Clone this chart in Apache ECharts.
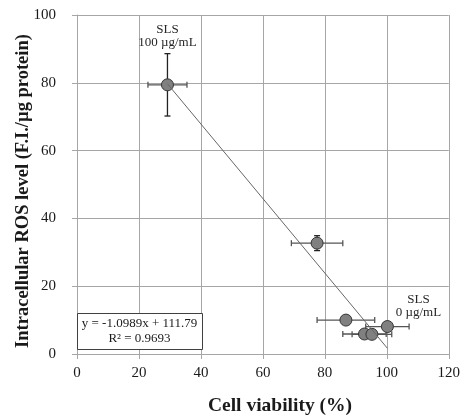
<!DOCTYPE html>
<html><head><meta charset="utf-8">
<script src="https://cdn.jsdelivr.net/npm/echarts@6/dist/echarts.min.js"></script>
<style>html,body{margin:0;padding:0;background:#fff}#c{width:463px;height:418px}</style>
</head><body><div id="c"></div>
<script>
const xVals = [29.2, 77.5, 86.8, 100.2, 92.8, 95.2];
const yVals = [79.4, 32.7, 10.0, 8.1, 5.9, 5.8];
const xErr = [6.3, 8.3, 9.3, 7.0, 7.0, 6.4];
const yErr = [9.2, 2.2, 0, 0, 0, 0];
const pointLabels = ['SLS\n100 µg/mL', '', '', 'SLS\n0 µg/mL', '', ''];
const trend = { slope: -1.0989, intercept: 111.79 };
const eqText = ['y = -1.0989x + 111.79', 'R² = 0.9693'];
const xTicks = [0, 20, 40, 60, 80, 100, 120];
const yTicks = [0, 20, 40, 60, 80, 100];
const xTitle = 'Cell viability (%)';
const yTitle = 'Intracellular ROS level (F.I./µg protein)';

const FONT = 'Liberation Serif';
const chart = echarts.init(document.getElementById('c'), null, {renderer: 'canvas'});

const errData = xVals.map((x, i) => [x, yVals[i], xErr[i], yErr[i]]);
const scatterData = xVals.map((x, i) => {
  const d = { value: [x, yVals[i]] };
  if (i === 0) d.label = { show: true, formatter: pointLabels[i], position: 'top', distance: 29, offset: [0, 0] };
  if (i === 3) d.label = { show: true, formatter: pointLabels[i], position: 'top', distance: 1, offset: [31, 0] };
  return d;
});
const xmin = Math.min(...xVals), xmax = Math.max(...xVals);
const trendData = [[xmin, trend.slope * xmin + trend.intercept], [xmax, trend.slope * xmax + trend.intercept]];

const gridColor = '#a6a6a6';
const txt = '#1a1a1a';
chart.setOption({
  animation: false,
  grid: { left: 77, top: 15, width: 375, height: 339 },
  xAxis: {
    type: 'value', min: xTicks[0], max: xTicks[xTicks.length - 1], interval: 20,
    axisLine: { lineStyle: { color: gridColor } },
    axisTick: { show: true, length: 5, lineStyle: { color: gridColor } },
    splitLine: { show: true, lineStyle: { color: gridColor } },
    axisLabel: { fontFamily: FONT, fontSize: 15, color: txt, margin: 12 }
  },
  yAxis: {
    type: 'value', min: yTicks[0], max: yTicks[yTicks.length - 1], interval: 20,
    axisLine: { show: true, lineStyle: { color: gridColor } },
    axisTick: { show: true, length: 5, lineStyle: { color: gridColor } },
    splitLine: { show: true, lineStyle: { color: gridColor } },
    axisLabel: { fontFamily: FONT, fontSize: 15, color: txt, margin: 21 }
  },
  series: [
    {
      type: 'custom', z: 1, data: errData,
      renderItem: function (params, api) {
        const x = api.value(0), y = api.value(1), ex = api.value(2), ey = api.value(3);
        const c = api.coord([x, y]);
        const l = api.coord([x - ex, y]), r = api.coord([x + ex, y]);
        const t = api.coord([x, y + ey]), b = api.coord([x, y - ey]);
        const cap = 3;
        const xs = { stroke: '#555', lineWidth: 1.3 };
        const ys = { stroke: '#222', lineWidth: 1.3 };
        const ch = [
          { type: 'line', shape: { x1: l[0], y1: c[1], x2: r[0], y2: c[1] }, style: xs },
          { type: 'line', shape: { x1: l[0], y1: c[1] - cap, x2: l[0], y2: c[1] + cap }, style: xs },
          { type: 'line', shape: { x1: r[0], y1: c[1] - cap, x2: r[0], y2: c[1] + cap }, style: xs }
        ];
        if (ey > 0) {
          ch.push({ type: 'line', shape: { x1: c[0], y1: t[1], x2: c[0], y2: b[1] }, style: ys });
          ch.push({ type: 'line', shape: { x1: c[0] - cap, y1: t[1], x2: c[0] + cap, y2: t[1] }, style: ys });
          ch.push({ type: 'line', shape: { x1: c[0] - cap, y1: b[1], x2: c[0] + cap, y2: b[1] }, style: ys });
        }
        return { type: 'group', children: ch };
      }
    },
    {
      type: 'scatter', z: 2, symbolSize: 12, data: scatterData,
      itemStyle: { color: '#808080', borderColor: '#333', borderWidth: 1, opacity: 1 },
      label: { fontFamily: FONT, fontSize: 13, color: '#262626', lineHeight: 13, align: 'center' }
    },
    {
      type: 'line', z: 3, data: trendData, symbol: 'none',
      lineStyle: { color: '#666', width: 1 }
    }
  ],
  graphic: [
    { type: 'rect', left: 77, top: 313, z: 10,
      shape: { width: 125, height: 36 },
      style: { fill: '#fff', stroke: '#404040', lineWidth: 1 } },
    { type: 'text', x: 139.5, y: 331, z: 11,
      style: { text: eqText.join('\n'), fontFamily: FONT, fontSize: 13, fill: txt,
               align: 'center', verticalAlign: 'middle', lineHeight: 15 } },
    { type: 'text', x: 280, y: 406, z: 11,
      style: { text: xTitle, fontFamily: FONT, fontWeight: 'bold', fontSize: 19.5, fill: txt,
               align: 'center', verticalAlign: 'middle' } },
    { type: 'text', x: 23, y: 191, rotation: Math.PI / 2, z: 11,
      style: { text: yTitle, fontFamily: FONT, fontWeight: 'bold', fontSize: 18.5, fill: txt,
               align: 'center', verticalAlign: 'middle' } }
  ]
});
</script></body></html>
